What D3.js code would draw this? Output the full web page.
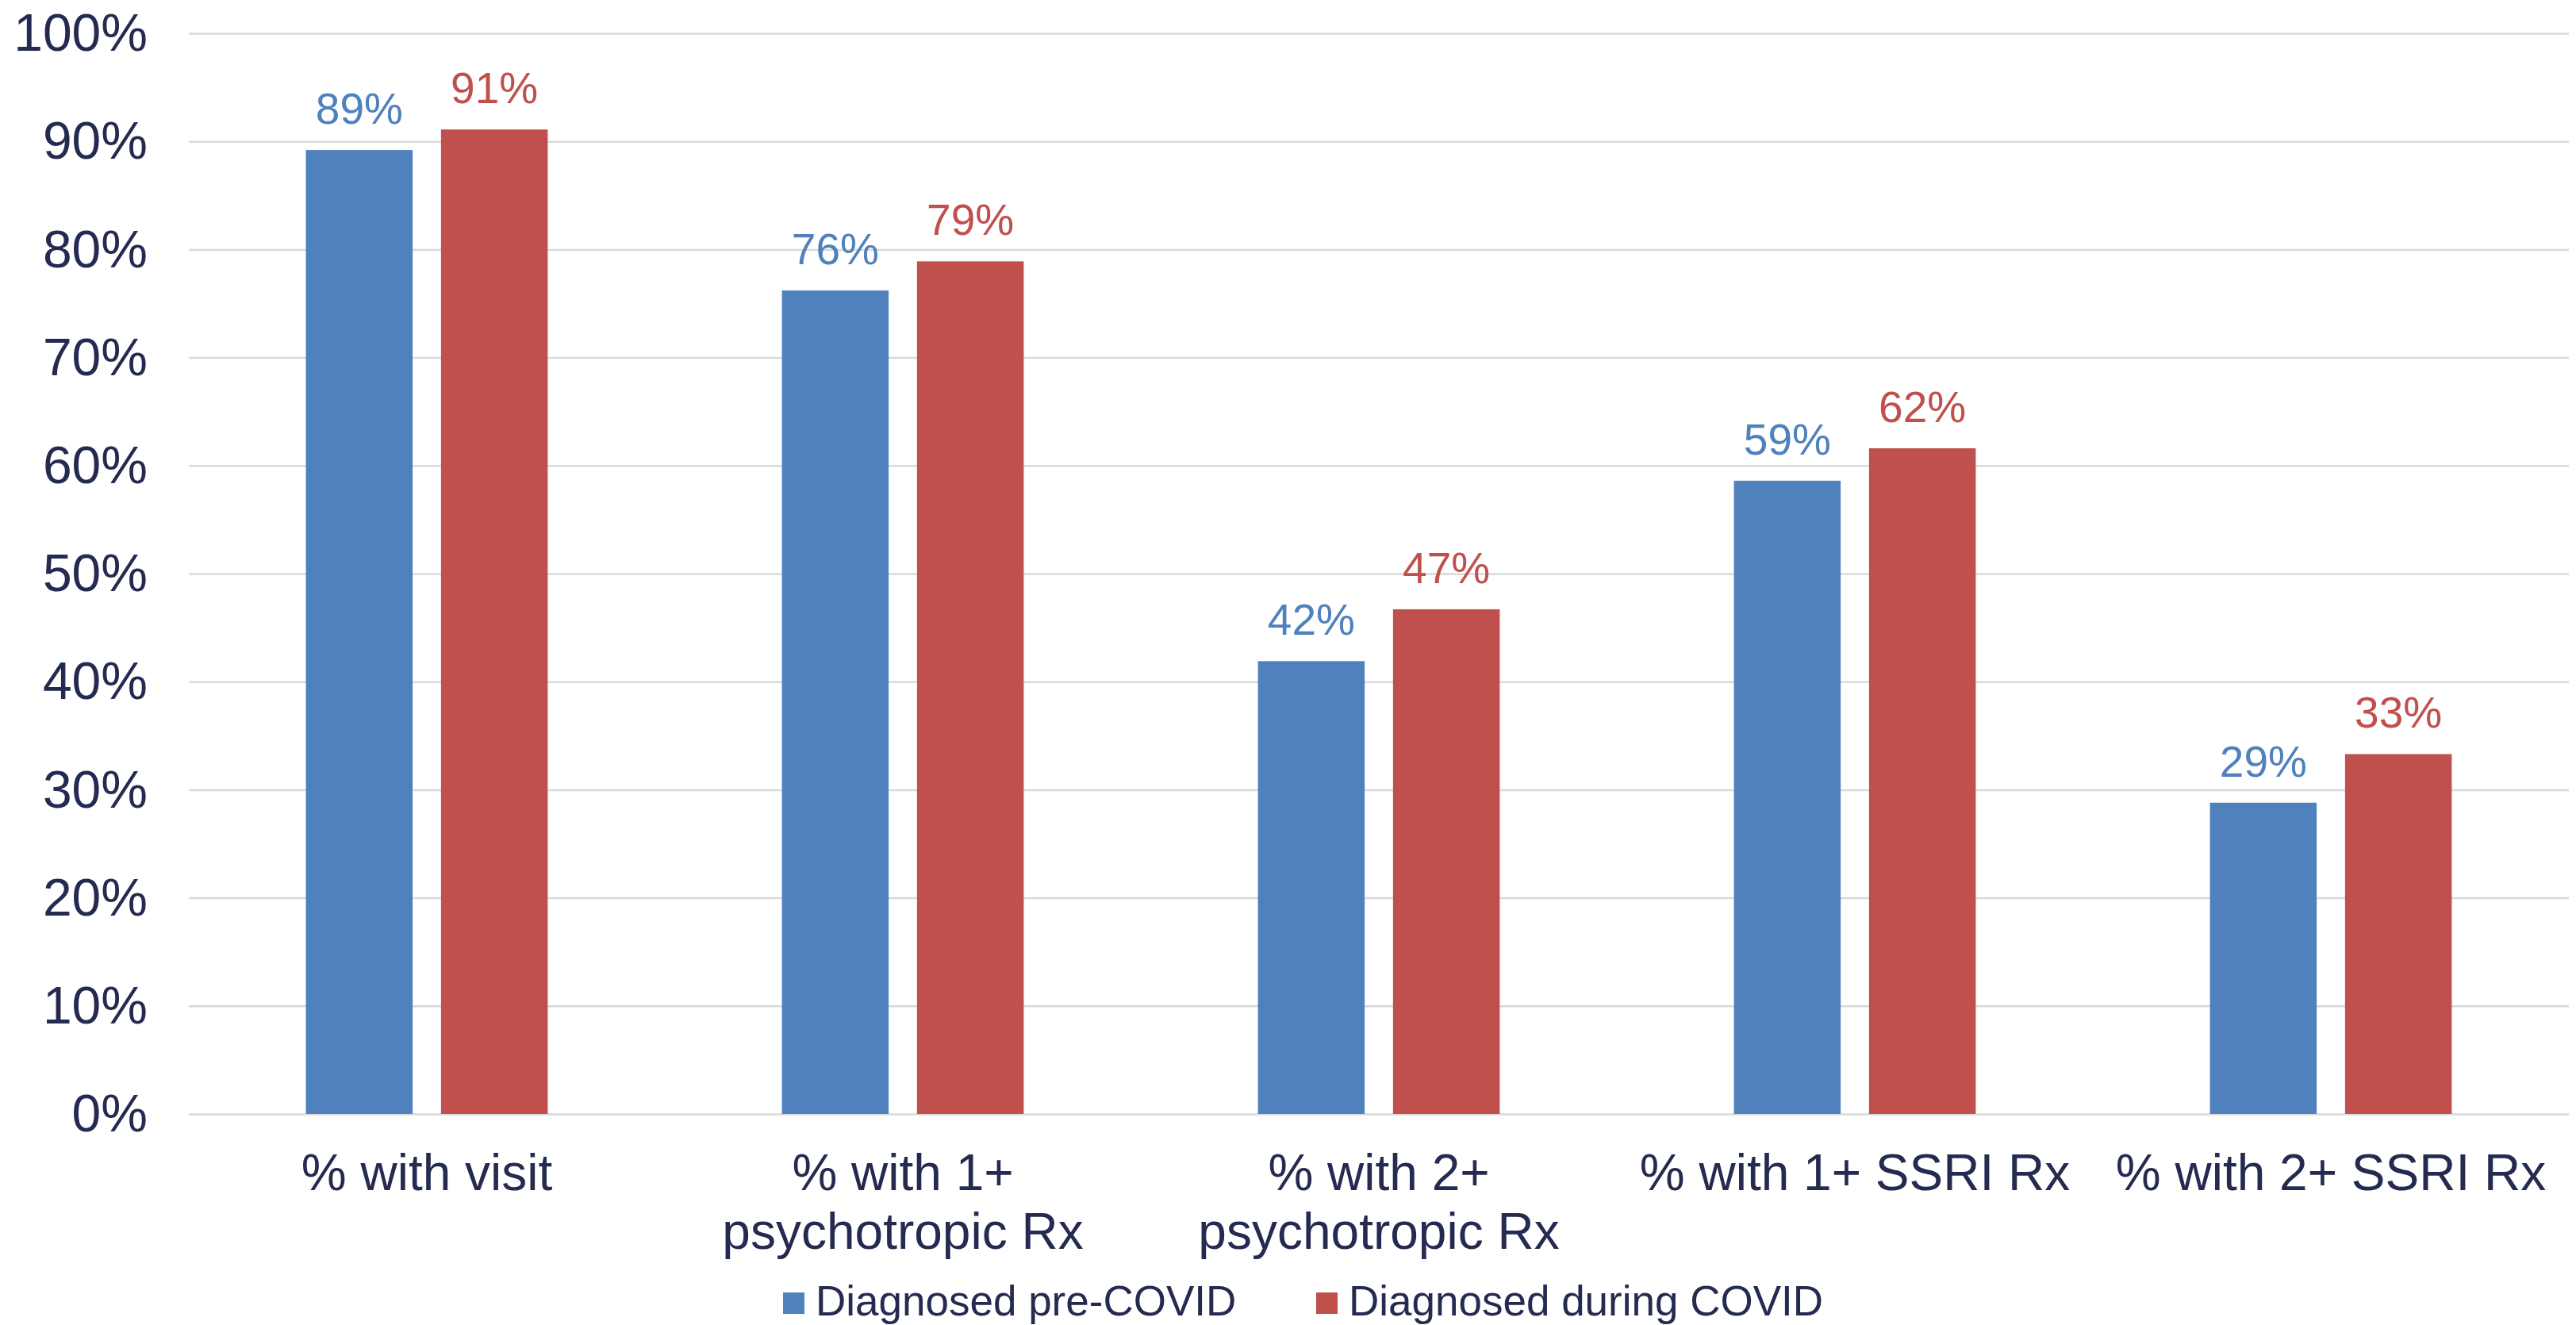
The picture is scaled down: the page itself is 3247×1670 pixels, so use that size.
<!DOCTYPE html>
<html lang="en">
<head>
    <meta charset="UTF-8">
    <title>Diagnosed pre-COVID vs during COVID</title>
    <script src="https://d3js.org/d3.v7.min.js"></script>
    <style>
        body { margin: 0; background: #fff; }
        text { font-family: "Liberation Sans", Arial, sans-serif; }
        .grid line { stroke: #d9d9d9; stroke-width: 2.5px; }
        .grid text { fill: #252b50; font-size: 66px; }
        .cat { fill: #252b50; font-size: 64px; }
        .legend text { fill: #252b50; font-size: 53px; }
        .val { font-size: 55px; }
    </style>
</head>
<body>
<script>
    const categories = [
        ["% with visit"],
        ["% with 1+", "psychotropic Rx"],
        ["% with 2+", "psychotropic Rx"],
        ["% with 1+ SSRI Rx"],
        ["% with 2+ SSRI Rx"]
    ];
    const seriesNames = ["Diagnosed pre-COVID", "Diagnosed during COVID"];
    const seriesColors = ["#4f81bd", "#c0504d"];
    const preCovid = [89.2, 76.2, 41.9, 58.6, 28.8];
    const duringCovid = [91.1, 78.9, 46.7, 61.6, 33.3];
    const valueLabels = [
        ["89%", "76%", "42%", "59%", "29%"],
        ["91%", "79%", "47%", "62%", "33%"]
    ];
    const yTicks = [0, 10, 20, 30, 40, 50, 60, 70, 80, 90, 100];

    const W = 3247, H = 1670;
    const margin = {top: 42, right: 9, bottom: 266, left: 238};
    const innerW = W - margin.left - margin.right;
    const innerH = H - margin.top - margin.bottom;

    const svg = d3.select("body").append("svg")
        .attr("width", W)
        .attr("height", H);

    const g = svg.append("g")
        .attr("transform", "translate(" + margin.left + "," + margin.top + ")");

    const keys = categories.map((c, i) => i);
    const rows = keys.map(i => ({i: i, vals: [preCovid[i], duringCovid[i]]}));

    const x0 = d3.scaleBand()
        .domain(keys)
        .range([0, innerW])
        .paddingInner(0.492)
        .paddingOuter(0.246);

    const x1 = d3.scaleBand()
        .domain([0, 1])
        .range([0, x0.bandwidth()])
        .paddingInner(0.21);

    const y = d3.scaleLinear()
        .domain([0, 100])
        .range([innerH, 0]);

    // gridlines + y labels
    const yAxis = g.append("g")
        .attr("class", "grid")
        .call(d3.axisLeft(y)
            .tickValues(yTicks)
            .tickSize(-innerW)
            .tickPadding(52)
            .tickFormat(d => d + "%"));
    yAxis.select(".domain").remove();
    yAxis.selectAll("text").attr("dy", "0.33em");

    // bars
    const grp = g.selectAll("g.cat-group")
        .data(rows)
        .enter().append("g")
        .attr("class", "cat-group")
        .attr("transform", d => "translate(" + x0(d.i) + ",0)");

    grp.selectAll("rect")
        .data(d => d.vals.map((v, s) => ({s: s, v: v, i: d.i})))
        .enter().append("rect")
        .attr("x", d => x1(d.s))
        .attr("y", d => y(d.v))
        .attr("width", x1.bandwidth())
        .attr("height", d => y(0) - y(d.v))
        .attr("fill", d => seriesColors[d.s]);

    grp.selectAll("text.val")
        .data(d => d.vals.map((v, s) => ({s: s, v: v, i: d.i})))
        .enter().append("text")
        .attr("class", "val")
        .attr("x", d => x1(d.s) + x1.bandwidth() / 2)
        .attr("y", d => y(d.v) - 33)
        .attr("text-anchor", "middle")
        .attr("fill", d => seriesColors[d.s])
        .text(d => valueLabels[d.s][d.i]);

    // category labels
    const cat = g.selectAll("text.cat")
        .data(categories)
        .enter().append("text")
        .attr("class", "cat")
        .attr("text-anchor", "middle")
        .attr("transform", (d, i) => "translate(" + (x0(i) + x0.bandwidth() / 2) + "," + (innerH + 96) + ")");

    cat.selectAll("tspan")
        .data(d => d)
        .enter().append("tspan")
        .attr("x", 0)
        .attr("y", (d, j) => j * 74)
        .text(d => d);

    // legend
    const legend = svg.append("g")
        .attr("class", "legend")
        .attr("transform", "translate(987,1629)");

    const legendX = [0, 672];
    const item = legend.selectAll("g")
        .data(seriesNames)
        .enter().append("g")
        .attr("transform", (d, i) => "translate(" + legendX[i] + ",0)");

    item.append("rect")
        .attr("width", 27)
        .attr("height", 27)
        .attr("fill", (d, i) => seriesColors[i]);

    item.append("text")
        .attr("x", 41)
        .attr("y", 29)
        .text(d => d);
</script>
</body>
</html>
